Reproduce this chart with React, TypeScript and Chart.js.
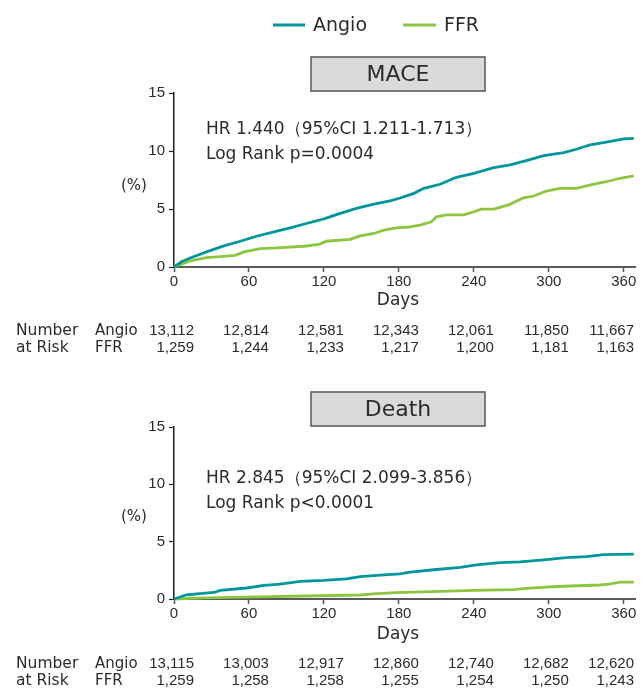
import { useEffect, useRef } from "react";
import { Chart, registerables } from "chart.js";
Chart.register(...registerables);

const xTickValues = [0, 60, 120, 180, 240, 300, 360];
const seriesNames = ["Angio", "FFR"];

const maceAngioDays = [0, 6, 13, 26, 40, 53, 66, 80, 93, 106, 120, 133, 146, 160, 173, 181, 192, 200, 213, 226, 240, 256, 269, 282, 296, 312, 322, 333, 346, 360, 368];
const maceAngioPct = [0, 0.45, 0.78, 1.3, 1.82, 2.22, 2.65, 3.03, 3.37, 3.75, 4.15, 4.62, 5.05, 5.42, 5.71, 5.95, 6.35, 6.78, 7.13, 7.73, 8.08, 8.56, 8.8, 9.17, 9.6, 9.86, 10.15, 10.53, 10.76, 11.05, 11.08];
const maceFfrDays = [0, 13, 26, 40, 49, 56, 69, 82, 104, 116, 122, 141, 149, 160, 168, 178, 189, 197, 206, 210, 218, 232, 240, 246, 256, 269, 274, 280, 288, 298, 309, 322, 336, 346, 357, 368];
const maceFfrPct = [0, 0.52, 0.81, 0.92, 1.0, 1.3, 1.59, 1.64, 1.79, 1.96, 2.22, 2.39, 2.68, 2.89, 3.17, 3.37, 3.46, 3.61, 3.89, 4.33, 4.5, 4.5, 4.76, 4.99, 4.99, 5.4, 5.68, 5.97, 6.12, 6.55, 6.78, 6.78, 7.15, 7.35, 7.65, 7.85];

const deathAngioDays = [0, 10, 32, 37, 58, 72, 85, 101, 120, 138, 149, 168, 181, 189, 208, 229, 242, 261, 277, 296, 314, 330, 344, 368];
const deathAngioPct = [0, 0.37, 0.57, 0.75, 0.96, 1.18, 1.3, 1.53, 1.62, 1.76, 1.96, 2.11, 2.2, 2.35, 2.55, 2.75, 2.98, 3.18, 3.24, 3.42, 3.61, 3.7, 3.87, 3.91];
const deathFfrDays = [0, 24, 58, 104, 149, 162, 178, 213, 240, 272, 282, 306, 341, 348, 357, 368];
const deathFfrPct = [0, 0.09, 0.17, 0.26, 0.35, 0.46, 0.55, 0.66, 0.75, 0.81, 0.92, 1.09, 1.22, 1.3, 1.48, 1.48];

const maceRiskAngio = ["13,112", "12,814", "12,581", "12,343", "12,061", "11,850", "11,667"];
const maceRiskFfr = ["1,259", "1,244", "1,233", "1,217", "1,200", "1,181", "1,163"];
const deathRiskAngio = ["13,115", "13,003", "12,917", "12,860", "12,740", "12,682", "12,620"];
const deathRiskFfr = ["1,259", "1,258", "1,258", "1,255", "1,254", "1,250", "1,243"];

const TEAL = "#00969b";
const GREEN = "#8cc63f";
const TXT = "#2b2b2b";
const WORD = "'DejaVu Sans', sans-serif";
const NUM = "'Liberation Sans', Arial, sans-serif";

type PanelProps = {
  height: number;
  padTop: number;
  axisH: number;
  title: string;
  hr: string;
  logrank: string;
  angioDays: number[];
  angioPct: number[];
  ffrDays: number[];
  ffrPct: number[];
  riskAngio: string[];
  riskFfr: string[];
  showLegend: boolean;
  boxTop: number;
  hrY: number;
  pctY: number;
  daysY: number;
  row1Y: number;
};

function Panel(p: PanelProps) {
  const ref = useRef<HTMLCanvasElement | null>(null);
  useEffect(() => {
    if (!ref.current) return;
    const pts = (d: number[], v: number[]) => d.map((x, i) => ({ x, y: v[i] }));
    const overlay = {
      id: "overlay",
      afterDraw(chart: any) {
        const ctx = chart.ctx as CanvasRenderingContext2D;
        const xs = chart.scales.x;
        ctx.save();
        ctx.fillStyle = TXT;
        ctx.textBaseline = "middle";
        if (p.showLegend) {
          ctx.lineWidth = 3;
          ctx.strokeStyle = TEAL;
          ctx.beginPath(); ctx.moveTo(273, 25); ctx.lineTo(305, 25); ctx.stroke();
          ctx.strokeStyle = GREEN;
          ctx.beginPath(); ctx.moveTo(403, 25); ctx.lineTo(436, 25); ctx.stroke();
          ctx.font = `19px ${WORD}`;
          ctx.textAlign = "left";
          ctx.fillText(seriesNames[0], 313, 26);
          ctx.fillText(seriesNames[1], 444, 26);
        }
        // title box
        ctx.fillStyle = "#d9dadc";
        ctx.fillRect(311, p.boxTop, 174, 34);
        ctx.strokeStyle = "#555";
        ctx.lineWidth = 1.5;
        ctx.strokeRect(311, p.boxTop, 174, 34);
        ctx.fillStyle = TXT;
        ctx.font = `22px ${WORD}`;
        ctx.textAlign = "center";
        ctx.fillText(p.title, 398, p.boxTop + 18);
        // HR text
        ctx.textAlign = "left";
        ctx.font = `17px ${WORD}`;
        ctx.fillText(p.hr, 206, p.hrY);
        ctx.fillText(p.logrank, 206, p.hrY + 25);
        ctx.font = `15px ${WORD}`;
        ctx.fillText("(%)", 121, p.pctY);
        ctx.textAlign = "center";
        ctx.font = `17px ${WORD}`;
        ctx.fillText("Days", 398, p.daysY);
        // number at risk
        ctx.textAlign = "left";
        ctx.font = `15.5px ${WORD}`;
        ctx.fillText("Number", 16, p.row1Y);
        ctx.fillText("at Risk", 16, p.row1Y + 17);
        ctx.font = `15px ${WORD}`;
        ctx.fillText(seriesNames[0], 95, p.row1Y);
        ctx.fillText(seriesNames[1], 95, p.row1Y + 17);
        ctx.textAlign = "right";
        ctx.font = `15px ${NUM}`;
        xTickValues.forEach((d, i) => {
          const xr = Math.min(xs.getPixelForValue(d) + 20, chart.width - 9);
          ctx.fillText(p.riskAngio[i], xr, p.row1Y);
          ctx.fillText(p.riskFfr[i], xr, p.row1Y + 17);
        });
        ctx.restore();
      },
    };
    const chart = new Chart(ref.current, {
      type: "line",
      data: {
        datasets: [
          { label: seriesNames[0], data: pts(p.angioDays, p.angioPct), borderColor: TEAL, borderWidth: 2.8, pointRadius: 0, tension: 0, clip: false as any },
          { label: seriesNames[1], data: pts(p.ffrDays, p.ffrPct), borderColor: GREEN, borderWidth: 2.8, pointRadius: 0, tension: 0, clip: false as any },
        ],
      },
      options: {
        animation: false,
        responsive: false,
        devicePixelRatio: 1,
        layout: { padding: { top: p.padTop, right: 8, left: 0, bottom: 0 } },
        plugins: { legend: { display: false }, tooltip: { enabled: false } },
        scales: {
          x: {
            type: "linear",
            min: 0,
            max: 369,
            afterFit: (s: any) => { s.height = p.axisH; },
            afterBuildTicks: (s: any) => { s.ticks = xTickValues.map((v) => ({ value: v })); },
            ticks: { stepSize: 60, includeBounds: false, color: TXT, font: { family: NUM, size: 15 }, padding: 1, maxRotation: 0 },
            grid: { display: true, drawOnChartArea: false, drawTicks: true, tickLength: 5, tickColor: "#555", tickWidth: 1.5 },
            border: { display: true, color: "#5a5a5a", width: 2 },
          },
          y: {
            min: 0,
            max: 15,
            afterFit: (s: any) => { s.width = 174; },
            ticks: { stepSize: 5, color: TXT, font: { family: NUM, size: 15 }, padding: 4 },
            grid: { display: true, drawOnChartArea: false, drawTicks: true, tickLength: 5, tickColor: "#222", tickWidth: 1.2 },
            border: { display: true, color: "#222", width: 1.5 },
          },
        },
      },
      plugins: [overlay],
    } as any);
    return () => chart.destroy();
  }, []);
  return <canvas ref={ref} width={643} height={p.height} style={{ display: "block" }} />;
}

export default function App() {
  return (
    <div style={{ position: "absolute", left: 0, top: 0, width: 643, background: "#fff" }}>
      <Panel
        height={360}
        padTop={93}
        axisH={93}
        title="MACE"
        hr="HR 1.440（95%CI 1.211-1.713）"
        logrank="Log Rank p=0.0004"
        angioDays={maceAngioDays}
        angioPct={maceAngioPct}
        ffrDays={maceFfrDays}
        ffrPct={maceFfrPct}
        riskAngio={maceRiskAngio}
        riskFfr={maceRiskFfr}
        showLegend={true}
        boxTop={57}
        hrY={130}
        pctY={186}
        daysY={301}
        row1Y={331}
      />
      <Panel
        height={328}
        padTop={67}
        axisH={89}
        title="Death"
        hr="HR 2.845（95%CI 2.099-3.856）"
        logrank="Log Rank p<0.0001"
        angioDays={deathAngioDays}
        angioPct={deathAngioPct}
        ffrDays={deathFfrDays}
        ffrPct={deathFfrPct}
        riskAngio={deathRiskAngio}
        riskFfr={deathRiskFfr}
        showLegend={false}
        boxTop={32}
        hrY={119}
        pctY={157}
        daysY={275}
        row1Y={304}
      />
    </div>
  );
}
